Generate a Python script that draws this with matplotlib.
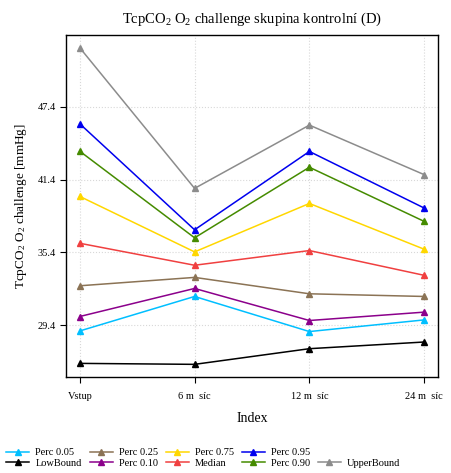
import numpy as np
import matplotlib
matplotlib.use('Agg')
import matplotlib.pyplot as plt
from matplotlib.lines import Line2D

plt.rcParams['font.family'] = ['Liberation Serif', 'DejaVu Serif']
plt.rcParams['mathtext.fontset'] = 'custom'
plt.rcParams['mathtext.rm'] = 'Liberation Serif'
plt.rcParams['mathtext.it'] = 'Liberation Serif'

x_labels = ['Vstup', '6 m  síc', '12 m  síc', '24 m  síc']
x = np.arange(1, 5)

series_names = ['UpperBound', 'Perc 0.95', 'Perc 0.90', 'Perc 0.75', 'Median',
                'Perc 0.25', 'Perc 0.10', 'Perc 0.05', 'LowBound']
upper = [52.25, 40.67, 45.88, 41.80]
p95 = [45.99, 37.26, 43.71, 39.05]
p90 = [43.73, 36.60, 42.41, 37.95]
p75 = [40.01, 35.44, 39.43, 35.66]
median = [36.15, 34.34, 35.55, 33.51]
p25 = [32.65, 33.34, 31.99, 31.77]
p10 = [30.12, 32.43, 29.79, 30.48]
p05 = [28.93, 31.77, 28.88, 29.84]
low = [26.26, 26.18, 27.47, 28.02]
values = [upper, p95, p90, p75, median, p25, p10, p05, low]
colors = ['#8c8c8c', '#0000ee', '#458b00', '#ffd700', '#f04040',
          '#8b7355', '#8b008b', '#00bfff', '#000000']

y_ticks = [29.4, 35.4, 41.4, 47.4]

fig = plt.figure(figsize=(4.52, 4.73), dpi=100)
ax = fig.add_axes([0.146, 0.203, 0.823, 0.723])

lines = {}
for name, vals, col in zip(series_names, values, colors):
    ln, = ax.plot(x, vals, color=col, lw=1.1, marker='^', ms=4, label=name)
    lines[name] = ln

ax.set_xlim(0.88, 4.12)
ax.set_ylim(25.14, 53.3)
ax.set_xticks(x)
ax.set_xticklabels(x_labels, fontsize=7.5)
ax.set_yticks(y_ticks)
ax.set_yticklabels([str(t) for t in y_ticks], fontsize=7.5)
ax.tick_params(axis='x', pad=7, length=4)
ax.tick_params(axis='y', length=4)
ax.grid(True, color='#d8d8d8', linestyle=':', lw=0.8)
ax.set_axisbelow(True)
for s in ax.spines.values():
    s.set_linewidth(1.0)

ax.set_title('TcpCO$_2$ O$_2$ challenge skupina kontrolní (D)', fontsize=10.5, pad=9)
ax.set_xlabel('Index', fontsize=10, labelpad=8)
ax.set_ylabel('TcpCO$_2$ O$_2$ challenge [mmHg]', fontsize=9.5, labelpad=6)

blank = Line2D([], [], color='none')
order = ['Perc 0.05', 'LowBound', 'Perc 0.25', 'Perc 0.10', 'Perc 0.75', 'Median',
         'Perc 0.95', 'Perc 0.90', None, 'UpperBound']
handles = [lines[n] if n else blank for n in order]
labels = [n if n else '' for n in order]
fig.legend(handles, labels, loc='lower left', bbox_to_anchor=(0.0, -0.002), ncol=5,
           frameon=False, fontsize=7.5, handlelength=2.2, handletextpad=0.6,
           columnspacing=0.75, labelspacing=0.1, borderaxespad=0.2)

fig.savefig('out.png', dpi=100)
